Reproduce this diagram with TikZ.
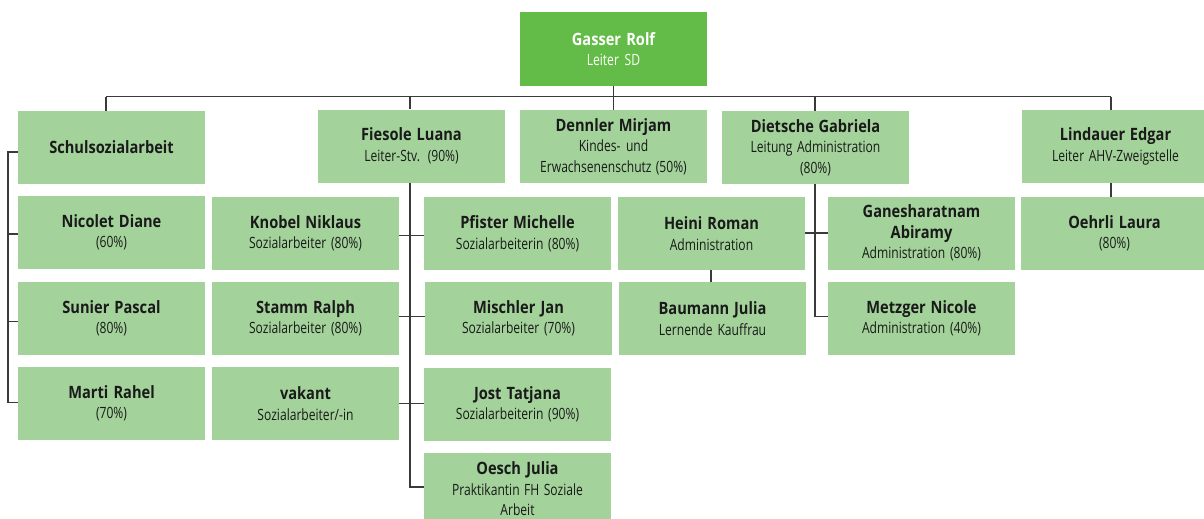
\documentclass[tikz,border=0pt]{standalone}
\usepackage{fontspec}
\setmainfont{Open Sans}[FakeStretch=0.78, BoldFeatures={FakeStretch=0.86}]
\definecolor{lgreen}{HTML}{A3D39B}
\definecolor{dgreen}{HTML}{62BC47}
\definecolor{lnc}{HTML}{3A3A3A}
\definecolor{txt}{HTML}{1A1A1A}
\newcommand{\nm}{\bfseries\fontsize{17}{20.5}\selectfont}
\newcommand{\subt}{\mdseries\fontsize{15.5}{20.5}\selectfont}
\begin{document}
\begin{tikzpicture}[x=1pt,y=-1pt,
  box/.style={fill=lgreen, draw=none, minimum width=187pt, minimum height=73pt,
    text width=186pt, align=center, inner sep=0pt, text=txt,
    font=\fontsize{15.5}{20.5}\selectfont,
    execute at begin node={\spaceskip=3.6pt plus 1pt minus 1pt\relax}},
  topbox/.style={box, fill=dgreen, text=white},
  conn/.style={draw=lnc, line width=1.2pt}]
\useasboundingbox (0,0) rectangle (1204,519);
% boxes
\node[topbox] (gasser) at (613.5,49) {\nm Gasser Rolf\\ \subt Leiter SD};
\node[box] (schul) at (111.5,147.5) {\nm Schulsozialarbeit};
\node[box] (fiesole) at (411.5,146) {\nm Fiesole Luana\\ \subt Leiter-Stv. (90\%)};
\node[box] (dennler) at (613.5,146.5) {\nm Dennler Mirjam\\ \subt Kindes- und\\ Erwachsenenschutz (50\%)};
\node[box] (dietsche) at (815.5,147.5) {\nm Dietsche Gabriela\\ \subt Leitung Administration\\ (80\%)};
\node[box] (lindauer) at (1115.5,146.5) {\nm Lindauer Edgar\\ \subt Leiter AHV-Zweigstelle};
\node[box] (nicolet) at (111.5,232.5) {\nm Nicolet Diane\\ \subt (60\%)};
\node[box] (sunier) at (111.5,318.5) {\nm Sunier Pascal\\ \subt (80\%)};
\node[box] (marti) at (111.5,403.5) {\nm Marti Rahel\\ \subt (70\%)};
\node[box] (knobel) at (305.5,233.5) {\nm Knobel Niklaus\\ \subt Sozialarbeiter (80\%)};
\node[box] (stamm) at (305.5,318.5) {\nm Stamm Ralph\\ \subt Sozialarbeiter (80\%)};
\node[box] (vakant) at (305.5,403.5) {\nm vakant\\ \subt Sozialarbeiter/-in};
\node[box] (pfister) at (517.5,233.5) {\nm Pfister Michelle\\ \subt Sozialarbeiterin (80\%)};
\node[box] (mischler) at (518.5,318.5) {\nm Mischler Jan\\ \subt Sozialarbeiter (70\%)};
\node[box] (jost) at (517.5,404.5) {\nm Jost Tatjana\\ \subt Sozialarbeiterin (90\%)};
\node[box] (oesch) at (517.5,489) {\nm Oesch Julia\\ \subt Praktikantin FH Soziale\\ Arbeit};
\node[box] (heini) at (711.5,233.5) {\nm Heini Roman\\ \subt Administration};
\node[box] (baumann) at (712.5,318.5) {\nm Baumann Julia\\ \subt Lernende Kauffrau};
\node[box] (ganesh) at (921.5,233) {\nm Ganesharatnam\\ Abiramy\\ \subt Administration (80\%)};
\node[box] (metzger) at (921.5,318.5) {\nm Metzger Nicole\\ \subt Administration (40\%)};
\node[box] (oehrli) at (1114.5,233.5) {\nm Oehrli Laura\\ \subt (80\%)};
% bus coordinates
\coordinate (busL) at (106,96.5);
\coordinate (busR) at (1111,96.5);
\coordinate (fx) at (410,0);
\coordinate (dx) at (815,0);
% connectors
\draw[conn] (gasser) -- (dennler);
\draw[conn] (busL) -- (busR);
\draw[conn] (busL) -- (busL |- schul.north);
\draw[conn] (fx |- busL) -- (fx |- fiesole.north);
\draw[conn] (dx |- busL) -- (dx |- dietsche.north);
\draw[conn] (busR) -- (busR |- lindauer.north);
% Schulsozialarbeit bracket
\draw[conn] (schul.west |- 0,152) -- (8,152) -- (8,402.3) -- (marti.west |- 0,402.3);
\draw[conn] (8,234) -- (nicolet.west |- 0,234);
\draw[conn] (8,321.7) -- (sunier.west |- 0,321.7);
% Fiesole team
\draw[conn] (fx |- fiesole.south) -- (fx |- 0,487) -- (oesch.west |- 0,487);
\draw[conn] (knobel.east |- 0,235.7) -- (pfister.west |- 0,235.7);
\draw[conn] (stamm.east |- 0,316.7) -- (mischler.west |- 0,316.7);
\draw[conn] (vakant.east |- 0,403.7) -- (jost.west |- 0,403.7);
% Dietsche team
\draw[conn] (dx |- dietsche.south) -- (dx |- 0,316.7) -- (metzger.west |- 0,316.7);
\draw[conn] (heini.east |- 0,233) -- (ganesh.west |- 0,233);
\draw[conn] (heini.south -| 711,0) -- (baumann.north -| 711,0);
% Lindauer team
\draw[conn] (busR |- lindauer.south) -- (busR |- oehrli.north);
\end{tikzpicture}
\end{document}
